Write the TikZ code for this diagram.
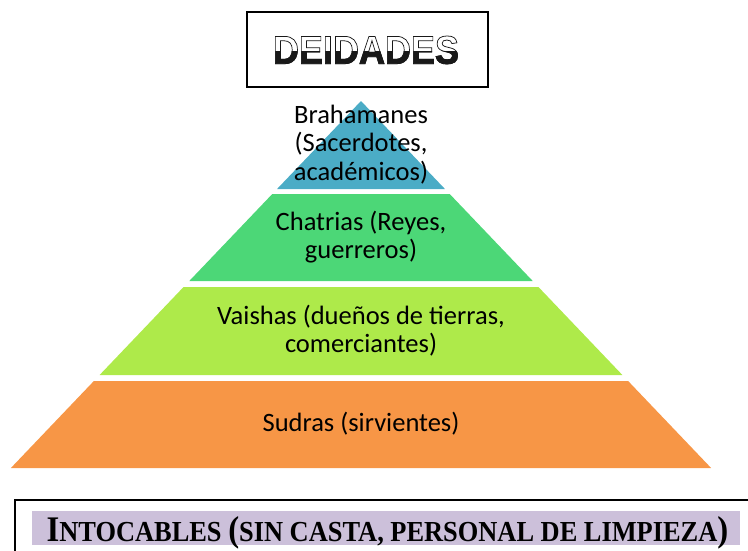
\documentclass[tikz,border=0pt]{standalone}
\usepackage{fontspec}
\setmainfont{Carlito}
\newfontfamily\deityfont{Liberation Sans}
\newfontfamily\castefont{Liberation Serif}

\definecolor{brahmin}{HTML}{4BACC6}
\definecolor{chatria}{HTML}{4CD777}
\definecolor{vaisha}{HTML}{AEEA4A}
\definecolor{sudra}{HTML}{F79646}
\definecolor{untouch}{HTML}{CCC0DA}

% hollow letters: white fill, black stroke
\newcommand\hollow[1]{\scalebox{1}[1.1]{\special{pdf:literal direct 0.1 G 2 Tr 0.7 w}#1\special{pdf:literal direct 0 Tr}}}
\newcommand\bigsc[1]{{\fontsize{36}{36}\selectfont #1}}

\begin{document}
\begin{tikzpicture}[x=1pt, y=-1pt,
  tier text/.style={align=center, inner sep=0pt, font=\fontsize{26.5}{28.5}\selectfont},
  deity text/.style={inner sep=0pt, font=\deityfont\bfseries\fontsize{36}{36}\selectfont}]

\useasboundingbox (0,0) rectangle (748,550);

% title box
\node[draw, line width=1.5pt, minimum width=241pt, minimum height=75pt] (deitybox) at (367.5,49.5) {};
\node[deity text, text=white] (deity) at (366,50) {\hollow{DEIDADES}};
\begin{scope}
\clip (250,51.5) rectangle (486,70);
\node[deity text, text=black!90] (deitylow) at (366,50) {\hollow{DEIDADES}};
\end{scope}

% pyramid tiers
\foreach \yt/\yb/\c in {101/189/brahmin, 194/281/chatria, 287/375/vaisha, 381/468/sudra}
  \fill[\c] ({361-0.954*(\yt-101)},\yt) -- ({361+0.954*(\yt-101)},\yt)
    -- ({361+0.954*(\yb-101)},\yb) -- ({361-0.954*(\yb-101)},\yb) -- cycle;

\node[tier text] (brah) at (361,144.5) {Brahamanes\\(Sacerdotes,\\académicos)};
\node[tier text] (chat) at (361,237) {Chatrias (Reyes,\\guerreros)};
\node[tier text] (vai) at (361,330.5) {Vaishas (dueños de tierras,\\comerciantes)};
\node[tier text] (sud) at (361,424) {Sudras (sirvientes)};

% untouchables
\draw[line width=1.3pt] (15,560) |- (760,500);
\fill[untouch] (32,511) rectangle (740,545);
\node[anchor=base, inner sep=0pt, font=\castefont\bfseries\fontsize{29}{29}\selectfont] (untouch)
  at (387.5,541) {\scalebox{0.91}[1]{\bigsc{I}NTOCABLES \bigsc{(}SIN CASTA, PERSONAL DE LIMPIEZA\bigsc{)}}};

\end{tikzpicture}
\end{document}
